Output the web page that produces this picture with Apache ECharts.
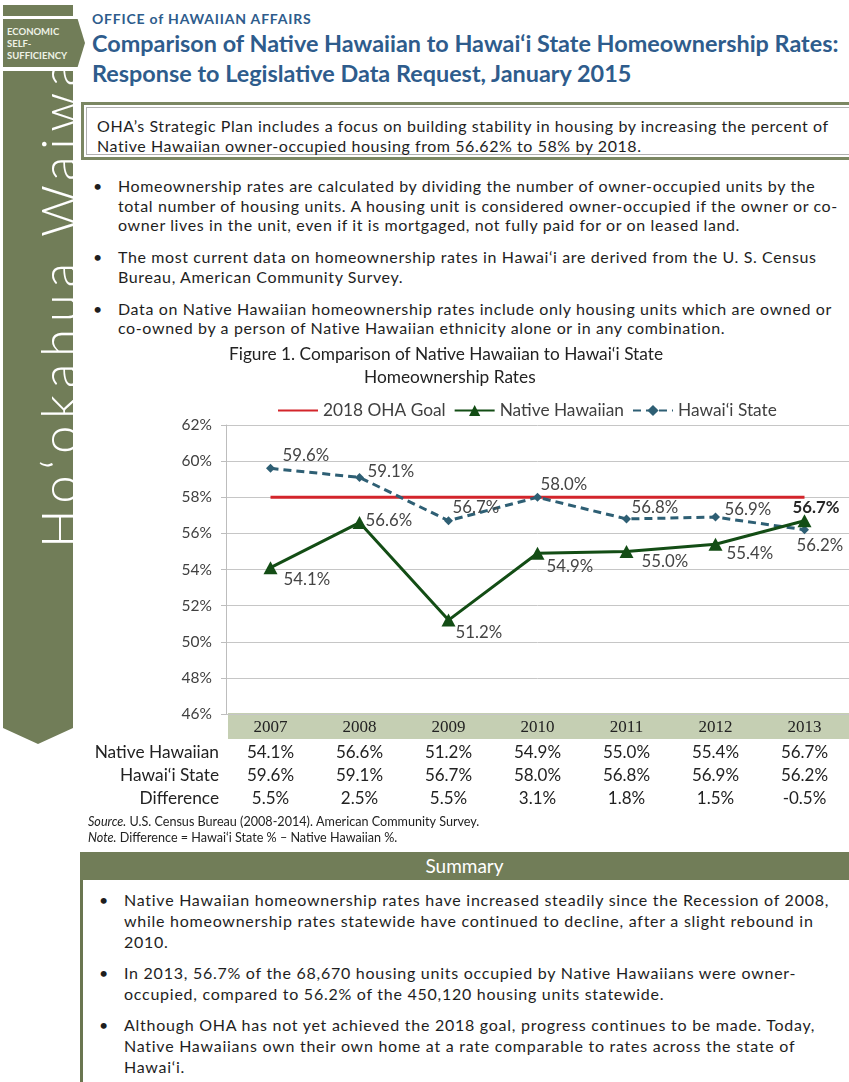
<!DOCTYPE html>
<html>
<head>
<meta charset="utf-8">
<script src="https://cdn.jsdelivr.net/npm/echarts@6/dist/echarts.min.js"></script>
<style>
  html, body { margin: 0; padding: 0; background: #fff; }
  body { width: 849px; height: 1082px; position: relative; overflow: hidden; font-family: Lato, "Open Sans", sans-serif; color: #1e1e1e; }
  .abs { position: absolute; }
  .olive { background: #717d58; }
  .topbar { left: 3px; top: 5px; width: 70px; height: 11px; }
  .badge { left: 3px; top: 19px; width: 82px; height: 48px; clip-path: polygon(0 0, 91% 0, 100% 50%, 91% 100%, 0 100%); }
  .badge div { position: absolute; left: 4px; font: bold 9.5px Lato, sans-serif; color: #eef2e6; }
  .side { left: 3px; top: 71px; width: 70px; height: 673px; clip-path: polygon(0 0, 100% 0, 100% 657px, 50% 100%, 0 657px); }
  .sidetext { position: absolute; left: 25px; top: 477px; width: 600px; height: 50px; line-height: 50px; font: 300 51px Lato, sans-serif; letter-spacing: 6.6px; color: #fff; white-space: nowrap; transform: rotate(-90deg); transform-origin: left top; }
  .kicker { left: 92px; top: 10px; font: bold 14px Lato, sans-serif; letter-spacing: 0.8px; color: #2e5c8c; white-space: nowrap; }
  .title { left: 92px; top: 28px; font: bold 23.4px/30px Lato, sans-serif; color: #2e5c8c; white-space: nowrap; }
  .intro { left: 81px; top: 102px; width: 790px; height: 52px; border: 3px solid #7b8762; box-shadow: inset 0 0 0 2px #fff, inset 0 0 0 3px #b0b0b0; }
  .intro p { margin: 0; position: absolute; left: 13px; top: 11px; font-size: 16px; letter-spacing: 0.57px; line-height: 20px; white-space: nowrap; }
  ul { margin: 0; padding: 0; list-style: none; }
  li { position: relative; white-space: nowrap; }
  li::before { content: "\2022"; position: absolute; left: -25px; letter-spacing: 0; }
  .bullets { left: 118px; top: 176px; font-size: 16px; letter-spacing: 0.62px; line-height: 19.5px; }
  .bullets li { margin-bottom: 12.5px; }
  .sumhead { left: 80px; top: 852px; width: 769px; height: 28px; color: #fff; font-size: 19px; line-height: 28px; text-align: center; }
  .sumside { left: 80px; top: 880px; width: 3px; height: 202px; background: #6a7650; }
  .summary { left: 124px; top: 889px; font-size: 16px; letter-spacing: 0.74px; line-height: 21px; }
  .summary li { margin-bottom: 10px; }
  #chart { left: 0; top: 340px; width: 849px; height: 510px; }
</style>
</head>
<body>
<div class="abs olive topbar"></div>
<div class="abs olive badge">
  <div style="top:7px">ECONOMIC</div>
  <div style="top:19px">SELF-</div>
  <div style="top:31px">SUFFICIENCY</div>
</div>
<div class="abs olive side"><div class="sidetext">Ho‘okahua Waiwai</div></div>

<div class="abs kicker">OFFICE of HAWAIIAN AFFAIRS</div>
<div class="abs title">Comparison of Native Hawaiian to Hawai‘i State Homeownership Rates:<br>Response to Legislative Data Request, January 2015</div>

<div class="abs intro"><p>OHA’s Strategic Plan includes a focus on building stability in housing by increasing the percent of<br>Native Hawaiian owner-occupied housing from 56.62% to 58% by 2018.</p></div>

<ul class="abs bullets">
  <li>Homeownership rates are calculated by dividing the number of owner-occupied units by the<br>total number of housing units. A housing unit is considered owner-occupied if the owner or co-<br>owner lives in the unit, even if it is mortgaged, not fully paid for or on leased land.</li>
  <li>The most current data on homeownership rates in Hawai‘i are derived from the U. S. Census<br>Bureau, American Community Survey.</li>
  <li>Data on Native Hawaiian homeownership rates include only housing units which are owned or<br>co-owned by a person of Native Hawaiian ethnicity alone or in any combination.</li>
</ul>

<div id="chart" class="abs"></div>

<div class="abs olive sumhead">Summary</div>
<div class="abs sumside"></div>
<ul class="abs summary">
  <li>Native Hawaiian homeownership rates have increased steadily since the Recession of 2008,<br>while homeownership rates statewide have continued to decline, after a slight rebound in<br>2010.</li>
  <li>In 2013, 56.7% of the 68,670 housing units occupied by Native Hawaiians were owner-<br>occupied, compared to 56.2% of the 450,120 housing units statewide.</li>
  <li>Although OHA has not yet achieved the 2018 goal, progress continues to be made. Today,<br>Native Hawaiians own their own home at a rate comparable to rates across the state of<br>Hawai‘i.</li>
</ul>

<script>
const years = ['2007', '2008', '2009', '2010', '2011', '2012', '2013'];
const nativeHawaiian = [54.1, 56.6, 51.2, 54.9, 55.0, 55.4, 56.7];
const hawaiiState = [59.6, 59.1, 56.7, 58.0, 56.8, 56.9, 56.2];
const difference = [5.5, 2.5, 5.5, 3.1, 1.8, 1.5, -0.5];
const ohaGoal = [58, 58, 58, 58, 58, 58, 58];
const yMin = 46, yMax = 62, yStep = 2;
const rowNames = ['Native Hawaiian', 'Hawai‘i State', 'Difference'];

// where each point label sits relative to its marker
const nhLabelShift = [[13, 12], [6, -2], [7, 13], [9, 13], [15, 10], [11, 9], [-12, -13]];
const hsLabelShift = [[12, -13], [8, -6], [4, -13], [3, -13], [5, -11], [9, -8], [-8, 16]];

const pct = v => v.toFixed(1) + '%';
const FONT = 'Lato';

function withLabels(values, shifts, boldLast) {
  return values.map((v, i) => {
    let lab = { offset: shifts[i] };
    if (boldLast && i === values.length - 1) {
      lab.fontWeight = 'bold';
      lab.color = '#262626';
    }
    return { value: v, label: lab };
  });
}

const pointLabel = {
  show: true,
  position: 'inside',
  align: 'left',
  verticalAlign: 'middle',
  formatter: p => pct(p.value),
  fontFamily: FONT,
  fontSize: 16.8,
  color: '#444'
};

let chart = echarts.init(document.getElementById('chart'));
let option = {
  animation: false,
  textStyle: { fontFamily: FONT },
  legend: {
    left: 272,
    top: 57,
    itemWidth: 40,
    itemHeight: 14,
    itemGap: 8,
    textStyle: { fontSize: 17.3, color: '#404040', fontFamily: FONT },
    data: [
      { name: '2018 OHA Goal', itemStyle: { opacity: 0 } },
      'Native Hawaiian',
      'Hawai‘i State'
    ]
  },
  grid: { left: 226, right: -7, top: 85, height: 289, containLabel: false },
  xAxis: {
    type: 'category',
    data: years,
    boundaryGap: true,
    axisLine: { show: false },
    axisTick: { show: false },
    axisLabel: {
      interval: 0,
      margin: 0,
      formatter: (val, i) => '{yr|' + val + '}\n{row|' + pct(nativeHawaiian[i]) + '}\n{row|' +
        pct(hawaiiState[i]) + '}\n{row|' + pct(difference[i]) + '}',
      rich: {
        yr: { fontFamily: 'Liberation Serif', fontSize: 17, color: '#222', lineHeight: 27 },
        row: { fontFamily: FONT, fontSize: 17, color: '#222', lineHeight: 23 }
      }
    }
  },
  yAxis: {
    type: 'value',
    min: yMin,
    max: yMax,
    interval: yStep,
    axisLine: { show: true, lineStyle: { color: '#bdbdbd' } },
    axisTick: { show: true, length: 5, lineStyle: { color: '#bdbdbd' } },
    axisLabel: { formatter: '{value}%', fontSize: 15.5, color: '#404040', margin: 14, fontFamily: FONT },
    splitLine: { lineStyle: { color: '#c6c6c6', width: 1 } }
  },
  graphic: [
    {
      type: 'text', left: 229, top: 6, z: 10,
      style: {
        text: 'Figure 1. Comparison of Native Hawaiian to Hawai‘i State',
        fontFamily: FONT, fontSize: 17.3, fill: '#222'
      }
    },
    {
      type: 'text', left: 364, top: 29, z: 10,
      style: { text: 'Homeownership Rates', fontFamily: FONT, fontSize: 17.3, fill: '#222' }
    },
    { type: 'rect', left: 228, top: 373, z: 0, shape: { width: 621, height: 26 }, style: { fill: '#c5cfb3' } },
    ...rowNames.map((name, k) => ({
      type: 'text', x: 219, y: 412 + k * 23, z: 10,
      style: { text: name, fontFamily: FONT, fontSize: 17.3, fill: '#222', align: 'right', verticalAlign: 'middle' }
    })),
    {
      type: 'text', x: 88, y: 482, z: 10,
      style: {
        text: '{i|Source.} U.S. Census Bureau (2008-2014). American Community Survey.',
        verticalAlign: 'middle', fontFamily: FONT, fontSize: 12.6, fill: '#222',
        rich: { i: { fontStyle: 'italic', fontFamily: FONT, fontSize: 12.6, fill: '#222' } }
      }
    },
    {
      type: 'text', x: 88, y: 498, z: 10,
      style: {
        text: '{i|Note.} Difference = Hawai‘i State % \u2013 Native Hawaiian %.',
        verticalAlign: 'middle', fontFamily: FONT, fontSize: 12.6, fill: '#222',
        rich: { i: { fontStyle: 'italic', fontFamily: FONT, fontSize: 12.6, fill: '#222' } }
      }
    }
  ],
  series: [
    {
      name: '2018 OHA Goal',
      type: 'line',
      data: ohaGoal,
      symbol: 'none',
      color: '#d3252b',
      lineStyle: { width: 3, color: '#d3252b' },
      z: 2
    },
    {
      name: 'Native Hawaiian',
      type: 'line',
      data: withLabels(nativeHawaiian, nhLabelShift, true),
      symbol: 'triangle',
      symbolSize: [14, 13],
      color: '#134d15',
      lineStyle: { width: 3, color: '#134d15' },
      label: pointLabel,
      z: 4
    },
    {
      name: 'Hawai‘i State',
      type: 'line',
      data: withLabels(hawaiiState, hsLabelShift, false),
      symbol: 'diamond',
      symbolSize: 9,
      color: '#2e5f74',
      lineStyle: { width: 3, color: '#2e5f74', type: [8, 5] },
      label: pointLabel,
      z: 3
    }
  ]
};
chart.setOption(option);
</script>
</body>
</html>
